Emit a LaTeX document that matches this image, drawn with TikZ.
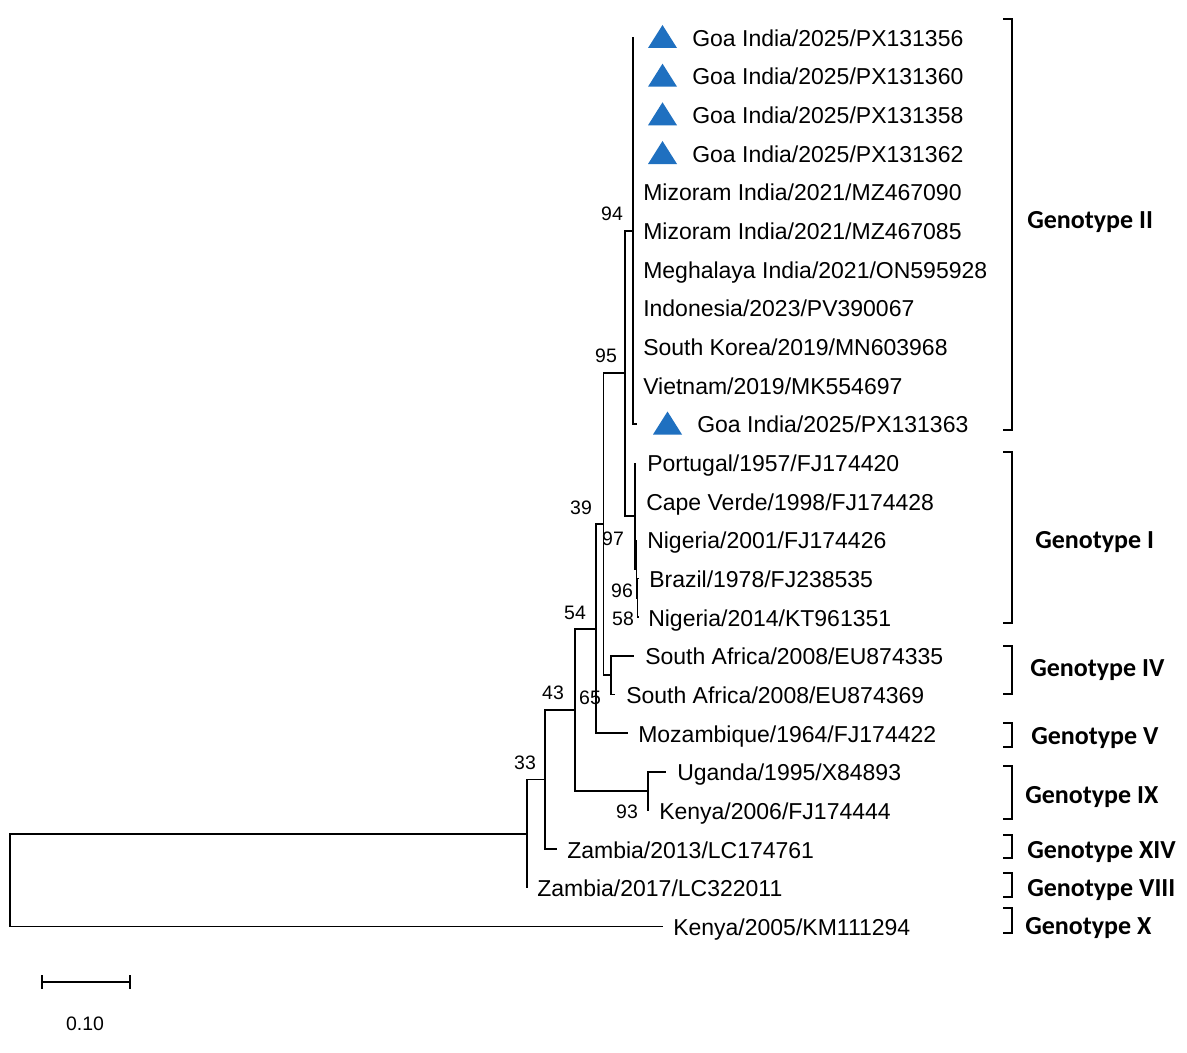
\documentclass[tikz,border=0pt]{standalone}
\usepackage{fontspec}
\setmainfont{Liberation Sans}
\newfontfamily\genofont{Carlito}
\definecolor{triblue}{RGB}{31,112,192}
\tikzset{
  branch/.style={line width=1.3pt, line join=miter},
  brk/.style={line width=2pt, line join=miter},
  leaf/.style={anchor=base west, inner sep=0pt, font=\fontsize{17.25pt}{20pt}\selectfont},
  boot/.style={anchor=base, inner sep=0pt, font=\fontsize{14.6pt}{17pt}\selectfont},
  geno/.style={anchor=base west, inner sep=0pt, font=\genofont\bfseries\fontsize{19.5pt}{22pt}\selectfont},
  tri/.style={fill=triblue, draw=none}
}
\begin{document}
\begin{tikzpicture}[x=0.75pt,y=-0.75pt]
\useasboundingbox[fill=white] (0,0) rectangle (1187,1052);

% ---- leaf end points
\coordinate (l1) at (633,37.5);
\coordinate (l2) at (633,76.2);
\coordinate (l3) at (633,114.8);
\coordinate (l4) at (633,153.5);
\coordinate (l5) at (633,192.1);
\coordinate (l6) at (633,230.8);
\coordinate (l7) at (633,269.4);
\coordinate (l8) at (633,308.1);
\coordinate (l9) at (633,346.7);
\coordinate (l10) at (633,385.4);
\coordinate (l11) at (637,424);
\coordinate (l12) at (635,462.7);
\coordinate (l13) at (635,501.3);
\coordinate (l14) at (636.5,540);
\coordinate (l15) at (638.5,578.6);
\coordinate (l16) at (638,617.3);
\coordinate (l17) at (634,655.9);
\coordinate (l18) at (615,694.6);
\coordinate (l19) at (628,733.2);
\coordinate (l20) at (666,771.9);
\coordinate (l21) at (649,810.5);
\coordinate (l22) at (557,849.2);
\coordinate (l23) at (527,887.8);
\coordinate (l24) at (663,926.5);

% ---- internal nodes
\coordinate (R) at (10,880.1);
\coordinate (G) at (527,833.7);
\coordinate (F) at (545,779.6);
\coordinate (E) at (575,710);
\coordinate (UK) at (648,791.2);
\coordinate (A) at (596,628.7);
\coordinate (B) at (603.5,524.3);
\coordinate (D) at (611,675.25);
\coordinate (C) at (625,373.3);
\coordinate (G2) at (633,230.75);
\coordinate (G1) at (635,515.8);
\coordinate (N97) at (636.5,569);
\coordinate (N96) at (637.5,598);

% ---- branches
\draw[branch] (R) |- (G);
\draw[branch] (R) |- (l24);
\draw[branch] (G) |- (F);
\draw[branch] (G) |- (l23);
\draw[branch] (F) |- (E);
\draw[branch] (F) |- (l22);
\draw[branch] (E) |- (A);
\draw[branch] (E) |- (UK);
\draw[branch] (UK) |- (l20);
\draw[branch] (UK) |- (l21);
\draw[branch] (A) |- (B);
\draw[branch] (A) |- (l19);
\draw[branch] (B) |- (C);
\draw[branch] (B) |- (D);
\draw[branch] (D) |- (l17);
\draw[branch] (D) |- (l18);
\draw[branch] (C) |- (G2);
\draw[branch] (C) |- (G1);
\foreach \i in {1,...,11} { \draw[branch] (G2) |- (l\i); }
\draw[branch] (G1) |- (l12);
\draw[branch] (G1) |- (l13);
\draw[branch] (G1) |- (N97);
\draw[branch] (N97) |- (l14);
\draw[branch] (N97) |- (N96);
\draw[branch] (N96) |- (l15);
\draw[branch] (N96) |- (l16);

% ---- triangles
\foreach \yy/\xx in {37.5/648, 76.2/648, 114.8/648, 153.5/648, 424/653} {
  \fill[tri] (\xx,\yy+10.5) -- (\xx+29,\yy+10.5) -- (\xx+14.5,\yy-12.5) -- cycle;
}

% ---- leaf labels
\node[leaf] (t1) at (692,46.3) {Goa India/2025/PX131356};
\node[leaf] (t2) at (692,85.0) {Goa India/2025/PX131360};
\node[leaf] (t3) at (692,123.6) {Goa India/2025/PX131358};
\node[leaf] (t4) at (692,162.3) {Goa India/2025/PX131362};
\node[leaf] (t5) at (643,200.9) {Mizoram India/2021/MZ467090};
\node[leaf] (t6) at (643,239.6) {Mizoram India/2021/MZ467085};
\node[leaf] (t7) at (643,278.2) {Meghalaya India/2021/ON595928};
\node[leaf] (t8) at (643,316.9) {Indonesia/2023/PV390067};
\node[leaf] (t9) at (643,355.5) {South Korea/2019/MN603968};
\node[leaf] (t10) at (643,394.2) {Vietnam/2019/MK554697};
\node[leaf] (t11) at (697,432.8) {Goa India/2025/PX131363};
\node[leaf] (t12) at (647,471.5) {Portugal/1957/FJ174420};
\node[leaf] (t13) at (646,510.1) {Cape Verde/1998/FJ174428};
\node[leaf] (t14) at (647,548.8) {Nigeria/2001/FJ174426};
\node[leaf] (t15) at (649,587.4) {Brazil/1978/FJ238535};
\node[leaf] (t16) at (648,626.1) {Nigeria/2014/KT961351};
\node[leaf] (t17) at (645,664.7) {South Africa/2008/EU874335};
\node[leaf] (t18) at (626,703.4) {South Africa/2008/EU874369};
\node[leaf] (t19) at (638,742.0) {Mozambique/1964/FJ174422};
\node[leaf] (t20) at (677,780.7) {Uganda/1995/X84893};
\node[leaf] (t21) at (659,819.3) {Kenya/2006/FJ174444};
\node[leaf] (t22) at (567,858.0) {Zambia/2013/LC174761};
\node[leaf] (t23) at (537,896.6) {Zambia/2017/LC322011};
\node[leaf] (t24) at (673,935.3) {Kenya/2005/KM111294};

% ---- bootstrap values
\node[boot] (b94) at (612,220) {94};
\node[boot] (b95) at (606,362) {95};
\node[boot] (b39) at (581,514) {39};
\node[boot] (b97) at (613,545) {97};
\node[boot] (b96) at (622,597) {96};
\node[boot] (b58) at (623,625) {58};
\node[boot] (b54) at (575,619) {54};
\node[boot] (b65) at (590,704) {65};
\node[boot] (b43) at (553,699) {43};
\node[boot] (b33) at (525,769) {33};
\node[boot] (b93) at (627,818) {93};

% ---- genotype brackets
\draw[brk] (1003,19) -- (1012,19) -- (1012,430) -- (1003,430);
\draw[brk] (1003,452) -- (1012,452) -- (1012,623) -- (1003,623);
\draw[brk] (1003,646) -- (1012,646) -- (1012,694) -- (1003,694);
\draw[brk] (1003,723) -- (1012,723) -- (1012,747) -- (1003,747);
\draw[brk] (1003,766) -- (1012,766) -- (1012,819) -- (1003,819);
\draw[brk] (1003,835) -- (1012,835) -- (1012,858) -- (1003,858);
\draw[brk] (1003,873) -- (1012,873) -- (1012,897) -- (1003,897);
\draw[brk] (1003,908) -- (1012,908) -- (1012,933) -- (1003,933);

\node[geno] (g2) at (1027,228.4) {Genotype II};
\node[geno] (g1) at (1035,548.4) {Genotype I};
\node[geno] (g4) at (1030,676.4) {Genotype IV};
\node[geno] (g5) at (1031,744.4) {Genotype V};
\node[geno] (g9) at (1025,803.4) {Genotype IX};
\node[geno] (g14) at (1027,858.4) {Genotype XIV};
\node[geno] (g8) at (1027,896.4) {Genotype VIII};
\node[geno] (g10) at (1025,934.4) {Genotype X};

% ---- scale bar
\coordinate (s1) at (42,982);
\coordinate (s2) at (130,982);
\draw[line width=1.5pt] (s1) -- (s2);
\draw[line width=1.5pt] ([yshift=5pt]s1) -- ([yshift=-5pt]s1);
\draw[line width=1.5pt] ([yshift=5pt]s2) -- ([yshift=-5pt]s2);
\node[boot] (sc) at (85,1030) {0.10};
\end{tikzpicture}
\end{document}
